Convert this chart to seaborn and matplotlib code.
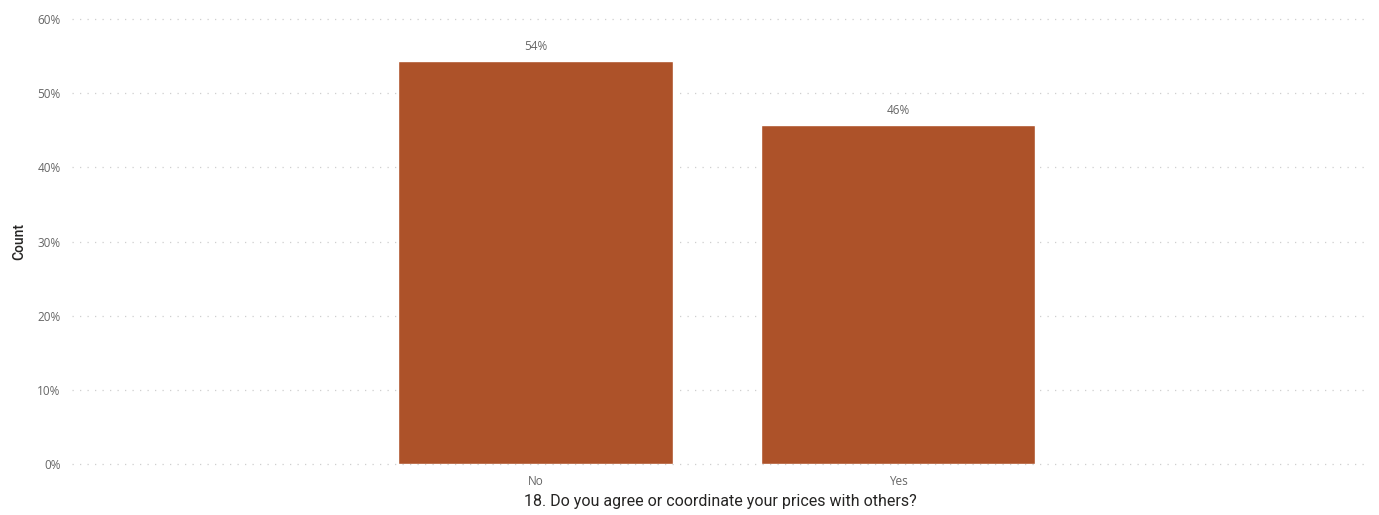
import matplotlib
matplotlib.use("Agg")
import matplotlib.pyplot as plt
import seaborn as sns
import pandas as pd

categories = ["No", "Yes"]
values = [54.3, 45.7]
labels = ["54%", "46%"]
yticks = [0, 10, 20, 30, 40, 50, 60]
ytick_labels = ["0%", "10%", "20%", "30%", "40%", "50%", "60%"]

sns.set_theme(style="white")
plt.rcParams['font.family'] = ['Open Sans', 'DejaVu Sans']

df = pd.DataFrame({"cat": categories, "val": values})

fig = plt.figure(figsize=(13.79, 5.15), dpi=100)
ax = fig.add_axes([0.052, 0.099, 0.941, 0.864])
sns.barplot(data=df, x="cat", y="val", color="#AD5229", width=0.757, ax=ax,
            saturation=1, zorder=3)
ax.set_xlim(-1.28, 2.3)
ax.set_ylim(0, 60)
ax.set_yticks(yticks)
ax.set_yticklabels(ytick_labels)
ax.yaxis.grid(True, linestyle=(0, (1, 5)), color="#CFCFCF", linewidth=0.9, zorder=0)
for gl in ax.get_ygridlines():
    gl.set_clip_on(False)
ax.xaxis.grid(False)
for s in ax.spines.values():
    s.set_visible(False)
ax.tick_params(axis="both", length=0, labelsize=8.5, colors="#666666", pad=8)
ax.tick_params(axis="x", pad=8)
for i, (v, l) in enumerate(zip(values, labels)):
    ax.text(i, v + 1.1, l, ha="center", va="bottom", fontsize=8.5, color="#666666")
ax.set_xlabel("18. Do you agree or coordinate your prices with others?",
              fontsize=11.5, color="#252423", family=["Roboto", "DejaVu Sans"], labelpad=4)
ax.set_ylabel("Count", fontsize=10, color="#252423", family=["Roboto", "DejaVu Sans"],
              fontweight="medium", labelpad=8)
fig.savefig("out.png", dpi=100)
